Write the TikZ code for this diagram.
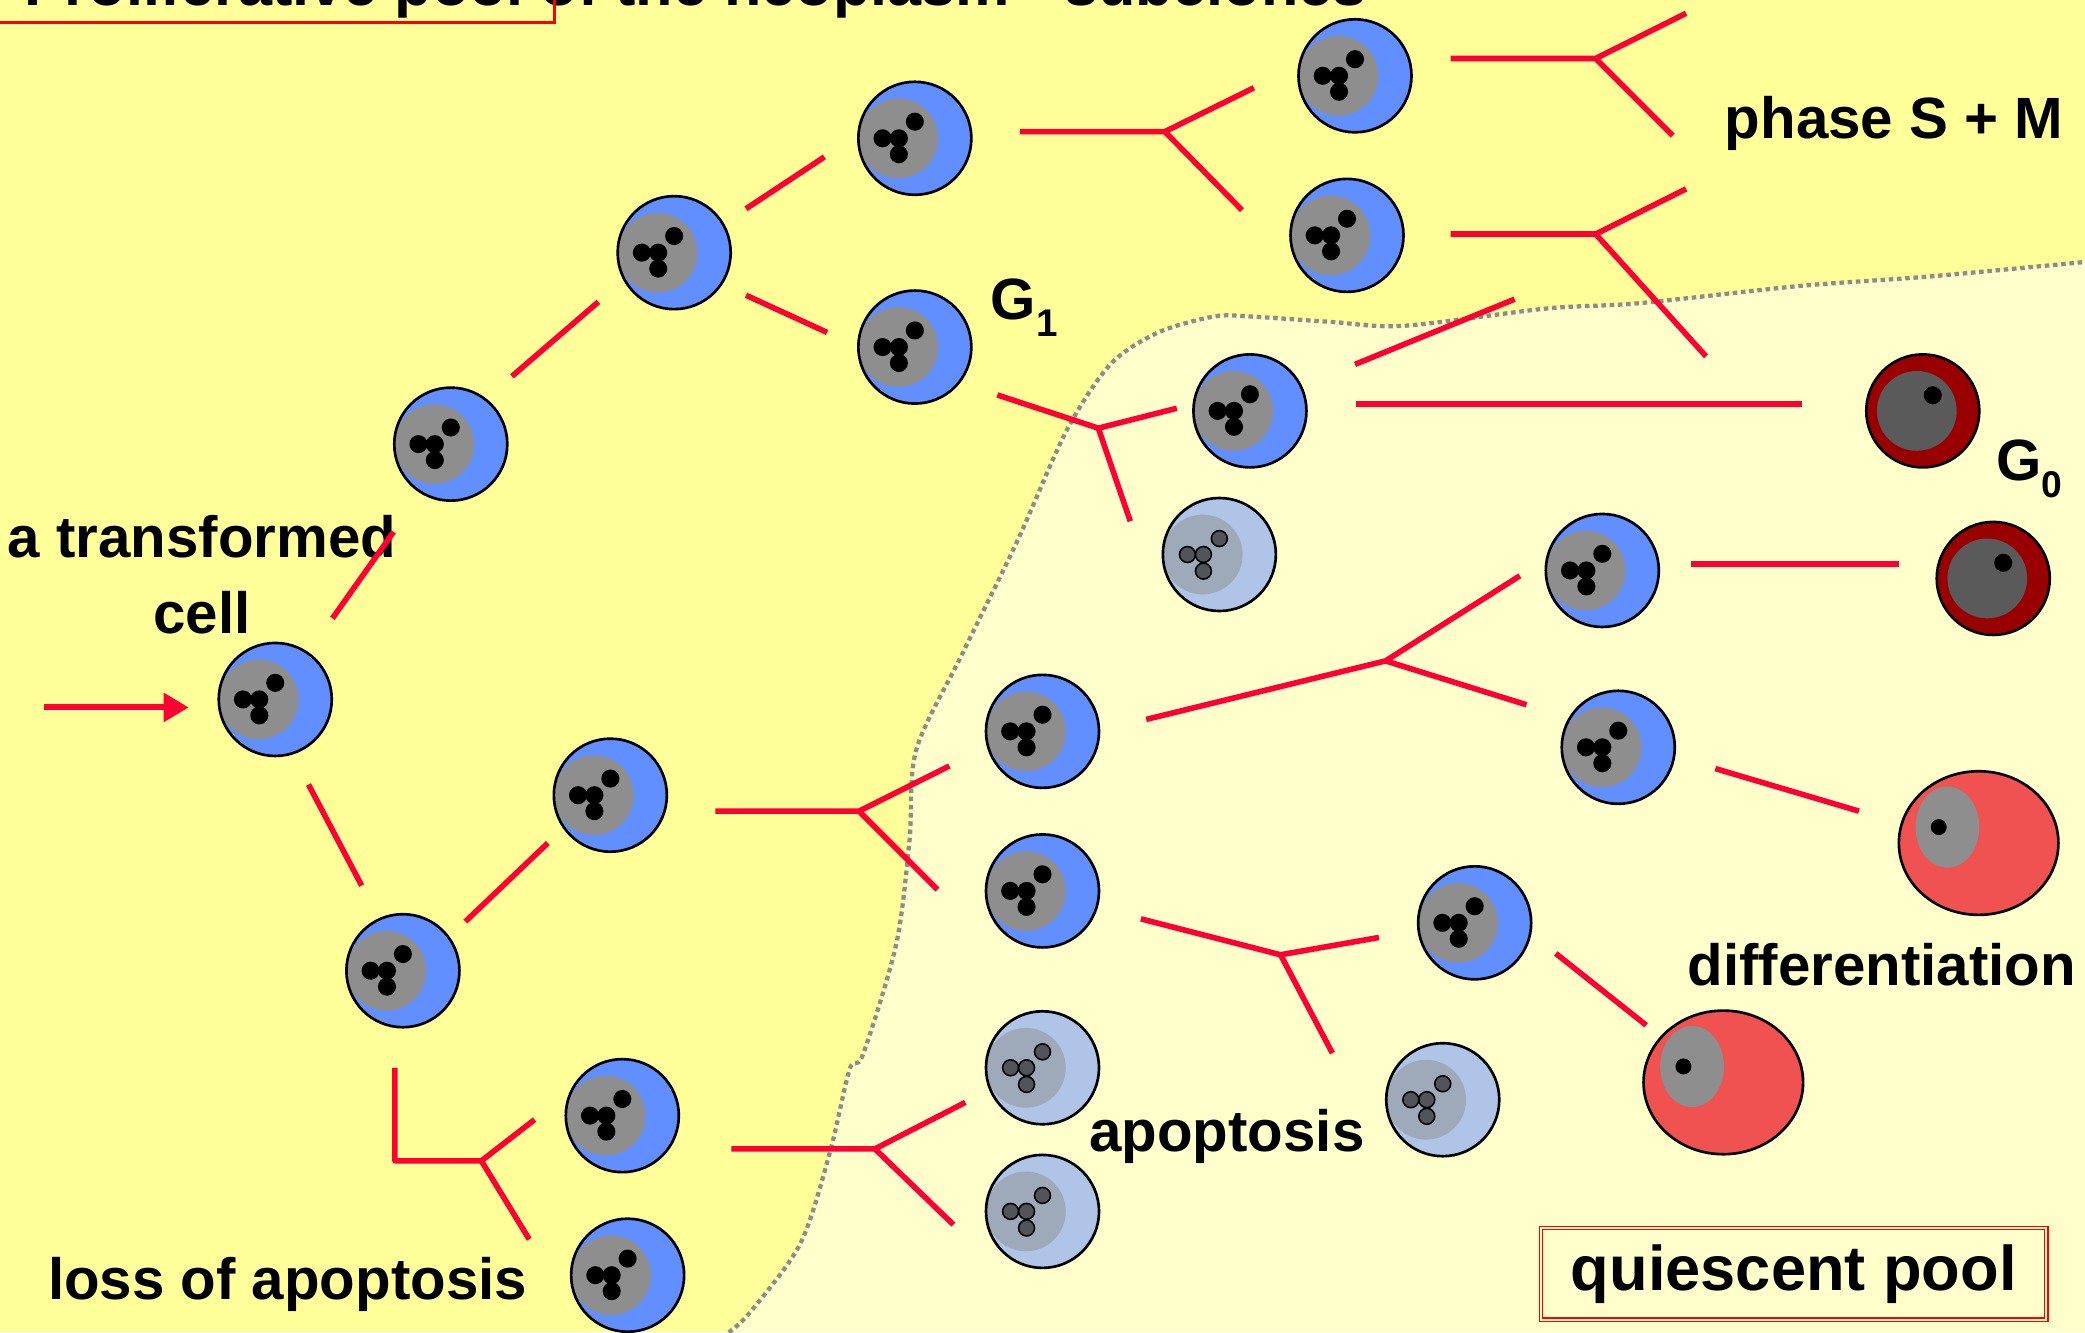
\documentclass[tikz,border=0pt]{standalone}
\usepackage{fontspec}
\setmainfont{Liberation Sans}
\usetikzlibrary{shapes.geometric,arrows.meta}

\definecolor{poolyellow}{RGB}{255,255,153}
\definecolor{restyellow}{RGB}{255,255,204}
\definecolor{cellblue}{RGB}{97,143,255}
\definecolor{nucgray}{RGB}{142,142,142}
\definecolor{apoblue}{RGB}{175,196,230}
\definecolor{apogray}{RGB}{158,170,186}
\definecolor{apodot}{RGB}{80,85,92}
\definecolor{restred}{RGB}{153,0,0}
\definecolor{restgray}{RGB}{90,90,90}
\definecolor{difred}{RGB}{240,82,82}
\definecolor{linkred}{RGB}{255,0,51}
\definecolor{edgegray}{RGB}{140,140,140}

\begin{document}
\begin{tikzpicture}[x=1pt,y=-1pt,
  link/.style={draw=linkred,line width=4.2,line join=round},
  lab/.style={inner sep=0,font=\bfseries\fontsize{43.8}{57}\selectfont},
  pcell/.style={circle,draw=black,line width=2,fill=cellblue,minimum size=85,inner sep=0,
    path picture={
      \fill[nucgray] ([xshift=-12.5pt]path picture bounding box.center) circle (30pt);
      \foreach \dx/\dy in {0/12.5,-24.3/0,-12/0,-12/-12}
        \fill[black] ([shift={(\dx pt,\dy pt)}]path picture bounding box.center) circle (6.8pt);}},
  acell/.style={circle,draw=black,line width=2,fill=apoblue,minimum size=85,inner sep=0,
    path picture={
      \fill[apogray] ([xshift=-12.5pt]path picture bounding box.center) circle (30pt);
      \foreach \dx/\dy in {0/12,-24/0,-12/0,-12/-12.5}
        \filldraw[fill=apodot,draw=black,line width=1.2] ([shift={(\dx pt,\dy pt)}]path picture bounding box.center) circle (6pt);}},
  qcell/.style={circle,draw=black,line width=2,fill=restred,minimum size=85,inner sep=0,
    path picture={
      \fill[restgray] ([xshift=-4.5pt]path picture bounding box.center) circle (30pt);
      \fill[black] ([shift={(7.5pt,11.75pt)}]path picture bounding box.center) circle (6.8pt);}},
  dcell/.style={ellipse,draw=black,line width=2,fill=difred,minimum width=120,minimum height=108,inner sep=0,
    path picture={
      \fill[nucgray] ([shift={(-23.5pt,12pt)}]path picture bounding box.center) ellipse (24pt and 30.5pt);
      \fill[black] ([shift={(-30pt,12pt)}]path picture bounding box.center) circle (6pt);}}
]
\useasboundingbox (0,0) rectangle (1568,1002);
\clip (0,0) rectangle (1568,1002);

%Background: proliferative pool and quiescent pool
\fill[poolyellow] (0,0) rectangle (1568,1002);
\fill[restyellow] plot[smooth,tension=0.5] coordinates {(548,1002) (564,987) (602,935) (624,867) (639,804) (649,793) (674,710) (684,632) (689,564) (724,491) (765,407) (802,324) (835,274) (871,250) (913,238) (940,238) (1000,242) (1056,245) (1163,232) (1233,228) (1354,215) (1450,208) (1568,197)} -- (1568,1002) -- cycle;
\draw[edgegray,line width=3.2,dash pattern=on 3.4pt off 2.8pt] plot[smooth,tension=0.5] coordinates {(548,1002) (564,987) (602,935) (624,867) (639,804) (649,793) (674,710) (684,632) (689,564) (724,491) (765,407) (802,324) (835,274) (871,250) (913,238) (940,238) (1000,242) (1056,245) (1163,232) (1233,228) (1354,215) (1450,208) (1568,197)};

% Text Node
\node[lab,font=\bfseries\fontsize{46}{55}\selectfont,anchor=base west] (title) at (18,4) {Proliferative pool of the neoplasm - subclones};
\draw[red,line width=2.8] (-20,-60) rectangle (417,17);
% Text Node
\node[lab,align=center] (tcell) at (152,432) {a transformed\\cell};
% Text Node
\node[lab,anchor=base west] (gone) at (745,240) {G\raisebox{-13pt}{\fontsize{29}{29}\selectfont 1}};
% Text Node
\node[lab,anchor=base west] (phase) at (1297,104) {phase S + M};
% Text Node
\node[lab,anchor=base west] (gzero) at (1501,361) {G\raisebox{-13pt}{\fontsize{28}{28}\selectfont 0}};
% Text Node
\node[lab,anchor=base west] (diff) at (1269,741) {differentiation};
% Text Node
\node[lab,anchor=base west] (apo) at (819,866) {apoptosis};
% Text Node
\node[lab,anchor=base west] (loss) at (36,977) {loss of apoptosis};
% Text Node
\node[lab,font=\bfseries\fontsize{47.5}{56}\selectfont,draw=red,double=restyellow,double distance=1.5,line width=1,minimum width=380,minimum height=69] (qpool) at (1349,958) {quiescent pool};

%Line ends and division forks
\coordinate (in0) at (33,532);   \coordinate (in1) at (142,532);
\coordinate (e1a) at (250,465);  \coordinate (e1b) at (296,400);
\coordinate (e2a) at (385,283);  \coordinate (e2b) at (450,227);
\coordinate (e3a) at (561,157);  \coordinate (e3b) at (620,118);
\coordinate (e4a) at (561,222);  \coordinate (e4b) at (622,250);
\coordinate (e5a) at (232,590);  \coordinate (e5b) at (272,666);
\coordinate (e6a) at (350,693);  \coordinate (e6b) at (412,634);
\coordinate (e7a) at (1019,274); \coordinate (e7b) at (1139,225);
\coordinate (e8a) at (1020,304); \coordinate (e8b) at (1355,304);
\coordinate (e9a) at (1272,424); \coordinate (e9b) at (1428,424);
\coordinate (e10a) at (1290,578); \coordinate (e10b) at (1398,610);
\coordinate (e11a) at (1170,717); \coordinate (e11b) at (1238,771);
\coordinate (s4) at (767,99);    \coordinate (f4) at (876,99);    \coordinate (u4) at (943,66);    \coordinate (d4) at (934,158);
\coordinate (s5) at (750,297);   \coordinate (f5) at (826,322);   \coordinate (u5) at (885,307);   \coordinate (d5) at (850,392);
\coordinate (s6) at (1091,44);   \coordinate (f6) at (1200,44);   \coordinate (u6) at (1268,10);   \coordinate (d6) at (1258,102);
\coordinate (s7) at (1091,176);  \coordinate (f7) at (1200,176);  \coordinate (u7) at (1268,142);  \coordinate (d7) at (1283,268);
\coordinate (s13) at (862,541);  \coordinate (f13) at (1042,497); \coordinate (u13) at (1143,433); \coordinate (d13) at (1148,530);
\coordinate (s11) at (538,610);  \coordinate (f11) at (646,610);  \coordinate (u11) at (714,576);  \coordinate (d11) at (705,669);
\coordinate (s14) at (858,691);  \coordinate (f14) at (963,718);  \coordinate (u14) at (1037,705); \coordinate (d14) at (1002,792);
\coordinate (s16) at (550,864);  \coordinate (f16) at (658,864);  \coordinate (u16) at (726,829);  \coordinate (d16) at (717,921);
\coordinate (s12) at (297,803);  \coordinate (c12) at (297,873);  \coordinate (f12) at (362,873);  \coordinate (u12) at (402,842);  \coordinate (d12) at (398,932);

%Straight Lines
\draw[link,line width=4.6,-{Triangle[length=19pt,width=21pt]}] (in0) -- (in1);
\draw[link] (e1a) -- (e1b);
\draw[link] (e2a) -- (e2b);
\draw[link] (e3a) -- (e3b);
\draw[link] (e4a) -- (e4b);
\draw[link] (e5a) -- (e5b);
\draw[link] (e6a) -- (e6b);
\draw[link] (e7a) -- (e7b);
\draw[link] (e8a) -- (e8b);
\draw[link] (e9a) -- (e9b);
\draw[link] (e10a) -- (e10b);
\draw[link] (e11a) -- (e11b);
%Forks
\draw[link] (s4) -- (f4) -- (u4) (f4) -- (d4);
\draw[link] (s5) -- (f5) -- (u5) (f5) -- (d5);
\draw[link] (s6) -- (f6) -- (u6) (f6) -- (d6);
\draw[link] (s7) -- (f7) -- (u7) (f7) -- (d7);
\draw[link] (s13) -- (f13) -- (u13) (f13) -- (d13);
\draw[link] (s11) -- (f11) -- (u11) (f11) -- (d11);
\draw[link] (s14) -- (f14) -- (u14) (f14) -- (d14);
\draw[link] (s16) -- (f16) -- (u16) (f16) -- (d16);
\draw[link] (s12) -- (c12) -- (f12) -- (u12) (f12) -- (d12);

%Shape: proliferating cells
\node[pcell] (p1) at (207,526) {};
\node[pcell] (p2) at (339,334) {};
\node[pcell] (p3) at (507,190) {};
\node[pcell] (p4) at (688,104) {};
\node[pcell] (p5) at (688,261) {};
\node[pcell] (p6) at (1019,57) {};
\node[pcell] (p7) at (1013,177) {};
\node[pcell] (p8) at (940,309) {};
\node[pcell] (p9) at (1205,429) {};
\node[pcell] (p10) at (1217,562) {};
\node[pcell] (p11) at (459,598) {};
\node[pcell] (p12) at (303,730) {};
\node[pcell] (p13) at (784,550) {};
\node[pcell] (p14) at (784,670) {};
\node[pcell] (p15) at (1109,694) {};
\node[pcell] (p16) at (468,839) {};
\node[pcell] (p17) at (472,959) {};
%Shape: apoptotic cells
\node[acell] (a1) at (917,417) {};
\node[acell] (a2) at (784,803) {};
\node[acell] (a3) at (784,911) {};
\node[acell] (a4) at (1085,827) {};
%Shape: resting cells
\node[qcell] (q1) at (1446,309) {};
\node[qcell] (q2) at (1499,435) {};
%Shape: differentiated cells
\node[dcell] (d1) at (1488,634) {};
\node[dcell] (d2) at (1296,814) {};

\end{tikzpicture}
\end{document}
